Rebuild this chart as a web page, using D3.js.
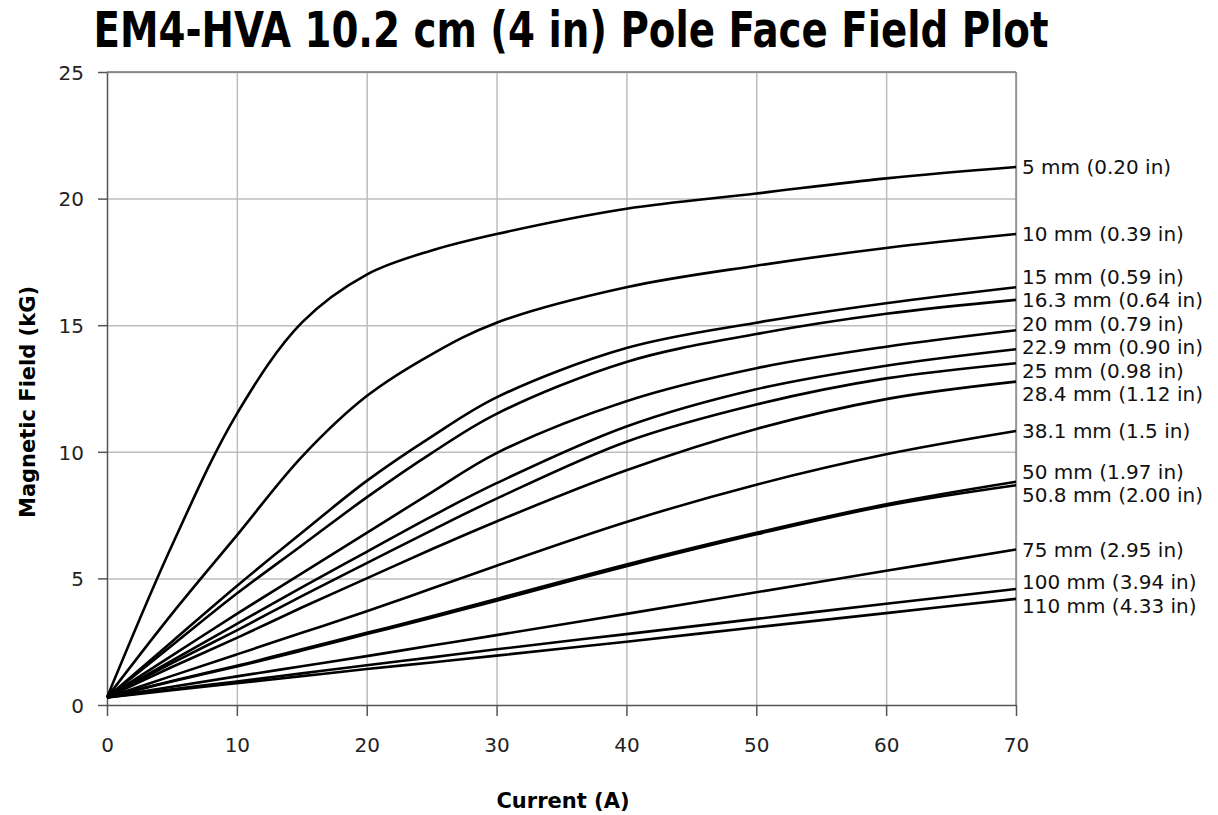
<!DOCTYPE html>
<html>
<head>
<meta charset="utf-8">
<script src="https://cdn.jsdelivr.net/npm/d3@7"></script>
<style>
  body { margin: 0; background: #fff; }
  svg { display: block; }
  .tick text { font-family: "DejaVu Sans", sans-serif; font-size: 20px; fill: #222; }
  .grid line { stroke: #bdbdbd; stroke-width: 1.5; }
  .grid .domain { display: none; }
  .curve { fill: none; stroke: #000; stroke-width: 2.6; }
  .lbl { font-family: "DejaVu Sans", sans-serif; font-size: 20px; fill: #111; }
</style>
</head>
<body>
<svg id="chart" width="1218" height="815"></svg>
<script>

/* Pole face field plot */

// Strom (A), gemeinsam fuer alle Kurven
let current = [0, 5, 10, 15, 20, 25, 30, 40, 50, 60, 70];

// Kurvennamen (Luftspalt)
let gaps = ["5 mm (0.20 in)", "10 mm (0.39 in)", "15 mm (0.59 in)", "16.3 mm (0.64 in)",
    "20 mm (0.79 in)", "22.9 mm (0.90 in)", "25 mm (0.98 in)", "28.4 mm (1.12 in)",
    "38.1 mm (1.5 in)", "50 mm (1.97 in)", "50.8 mm (2.00 in)", "75 mm (2.95 in)",
    "100 mm (3.94 in)", "110 mm (4.33 in)"];

// Feld (kG) je Kurve
let g5   = [0.3, 6.3, 11.5, 15.1, 17.0, 17.95, 18.6, 19.6, 20.2, 20.8, 21.25];
let g10  = [0.3, 3.6, 6.7, 9.8, 12.2, 13.85, 15.1, 16.5, 17.35, 18.05, 18.6];
let g15  = [0.3, 2.5, 4.7, 6.8, 8.85, 10.6, 12.15, 14.1, 15.1, 15.87, 16.5];
let g163 = [0.3, 2.35, 4.4, 6.3, 8.2, 9.95, 11.5, 13.55, 14.65, 15.45, 16.0];
let g20  = [0.3, 1.95, 3.6, 5.2, 6.8, 8.4, 9.95, 12.0, 13.3, 14.15, 14.8];
let g229 = [0.3, 1.75, 3.2, 4.65, 6.05, 7.45, 8.76, 11.0, 12.47, 13.4, 14.05];
let g25  = [0.3, 1.65, 2.95, 4.3, 5.6, 6.9, 8.15, 10.4, 11.87, 12.9, 13.5];
let g284 = [0.3, 1.5, 2.65, 3.85, 5.0, 6.15, 7.25, 9.27, 10.9, 12.08, 12.77];
let g381 = [0.3, 1.15, 2.0, 2.85, 3.7, 4.6, 5.5, 7.23, 8.7, 9.9, 10.82];
let g50  = [0.3, 0.95, 1.55, 2.2, 2.85, 3.5, 4.19, 5.55, 6.8, 7.93, 8.82];
let g508 = [0.3, 0.93, 1.52, 2.15, 2.8, 3.45, 4.12, 5.48, 6.74, 7.87, 8.68];
let g75  = [0.3, 0.72, 1.13, 1.53, 1.93, 2.35, 2.76, 3.6, 4.45, 5.3, 6.14];
let g100 = [0.3, 0.62, 0.93, 1.25, 1.57, 1.88, 2.2, 2.8, 3.4, 4.0, 4.58];
let g110 = [0.3, 0.58, 0.86, 1.14, 1.42, 1.68, 1.95, 2.5, 3.07, 3.63, 4.19];

let fields = [g5, g10, g15, g163, g20, g229, g25, g284, g381, g50, g508, g75, g100, g110];

let xTicks = [0, 10, 20, 30, 40, 50, 60, 70];
let yTicks = [0, 5, 10, 15, 20, 25];

let svg = d3.select("#chart"),
    pLeft = 107, pRight = 1016, pTop = 72, pBottom = 705;

let xScale = d3.scaleLinear().domain([0, 70]).range([pLeft, pRight]);
let yScale = d3.scaleLinear().domain([0, 25]).range([pBottom, pTop]);

// Titel
svg.append("text")
    .attr("x", 571)
    .attr("y", 47)
    .attr("text-anchor", "middle")
    .attr("textLength", 955)
    .attr("lengthAdjust", "spacingAndGlyphs")
    .style("font-family", "'DejaVu Sans Condensed', 'DejaVu Sans', sans-serif")
    .style("font-weight", "bold")
    .style("font-size", "50px")
    .text("EM4-HVA 10.2 cm (4 in) Pole Face Field Plot");

// Gitter
svg.append("g")
    .attr("class", "grid")
    .attr("transform", `translate(0,${pBottom})`)
    .call(d3.axisBottom(xScale).tickValues(xTicks.slice(1)).tickFormat("").tickSize(-(pBottom - pTop)));

svg.append("g")
    .attr("class", "grid")
    .attr("transform", `translate(${pLeft},0)`)
    .call(d3.axisLeft(yScale).tickValues(yTicks.slice(1)).tickFormat("").tickSize(-(pRight - pLeft)));

// Rahmen oben / rechts
svg.append("line")
    .attr("x1", pLeft).attr("x2", pRight).attr("y1", pTop).attr("y2", pTop)
    .attr("stroke", "#777").attr("stroke-width", 1.5);
svg.append("line")
    .attr("x1", pRight).attr("x2", pRight).attr("y1", pTop).attr("y2", pBottom)
    .attr("stroke", "#888").attr("stroke-width", 1.5);

// Achsen
let xAxis = svg.append("g")
    .attr("transform", `translate(0,${pBottom})`)
    .call(d3.axisBottom(xScale).tickValues(xTicks).tickSizeInner(11).tickSizeOuter(0).tickPadding(22));

let yAxis = svg.append("g")
    .attr("transform", `translate(${pLeft},0)`)
    .call(d3.axisLeft(yScale).tickValues(yTicks).tickSizeInner(9).tickSizeOuter(0).tickPadding(14));

[xAxis, yAxis].forEach(function (a) {
    a.select(".domain").attr("stroke", "#555").attr("stroke-width", 1.5);
    a.selectAll(".tick line").attr("stroke", "#555").attr("stroke-width", 1.5);
});
yAxis.selectAll(".tick text").attr("dy", "0.36em");

// Kurven
let line = d3.line()
    .x(function (d) { return xScale(d[0]); })
    .y(function (d) { return yScale(d[1]); })
    .curve(d3.curveCatmullRom.alpha(0.5));

fields.forEach(function (vals) {
    svg.append("path")
        .datum(current.map(function (c, i) { return [c, vals[i]]; }))
        .attr("class", "curve")
        .attr("d", line);
});

// Beschriftung rechts, mit Abstand
let pos = fields.map(function (vals) { return yScale(vals[vals.length - 1]); });
let gap = 23.4;
for (let it = 0; it < 200; it++) {
    for (let i = 0; i < pos.length - 1; i++) {
        let d = pos[i + 1] - pos[i];
        if (d < gap) {
            let s = (gap - d) / 2;
            pos[i] -= s;
            pos[i + 1] += s;
        }
    }
}

svg.selectAll(".lbl")
    .data(gaps)
    .enter()
    .append("text")
    .attr("class", "lbl")
    .attr("x", pRight + 6)
    .attr("y", function (d, i) { return pos[i]; })
    .attr("dy", "0.36em")
    .text(function (d) { return d; });

// Achsentitel
svg.append("text")
    .attr("x", 563)
    .attr("y", 808)
    .attr("text-anchor", "middle")
    .style("font-family", "'DejaVu Sans', sans-serif")
    .style("font-weight", "bold")
    .style("font-size", "21px")
    .text("Current (A)");

svg.append("text")
    .attr("transform", "translate(35,402) rotate(-90)")
    .attr("text-anchor", "middle")
    .style("font-family", "'DejaVu Sans', sans-serif")
    .style("font-weight", "bold")
    .style("font-size", "21px")
    .text("Magnetic Field (kG)");

</script>
</body>
</html>
